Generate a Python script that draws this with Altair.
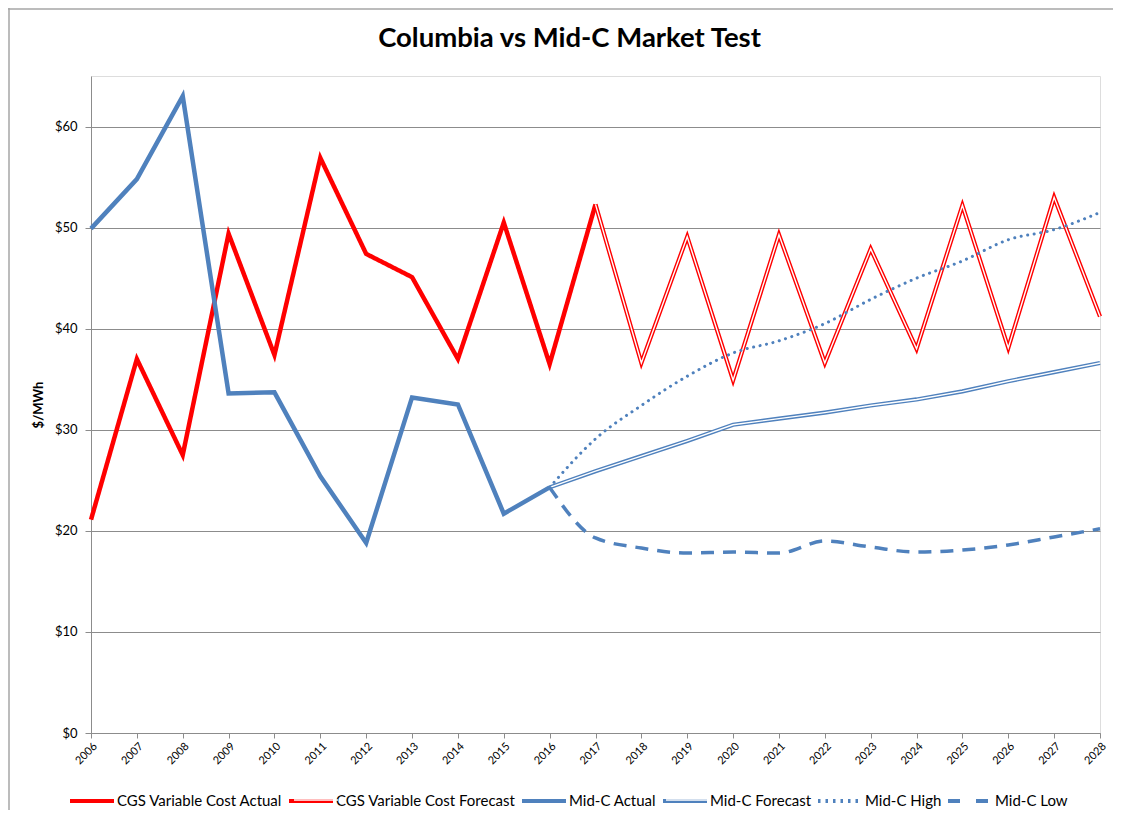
import altair as alt
import pandas as pd

# ---- data ----
years_cgs_actual = list(range(2006, 2018))
cgs_actual = [21.1, 37.0, 27.5, 49.4, 37.4, 56.9, 47.4, 45.1, 37.0, 50.5, 36.5, 52.3]

years_cgs_forecast = list(range(2017, 2029))
cgs_forecast = [52.3, 36.6, 49.1, 34.9, 49.3, 36.6, 47.9, 38.0, 52.2, 38.1, 53.0, 41.2]

years_midc_actual = list(range(2006, 2017))
midc_actual = [49.9, 54.8, 63.0, 33.6, 33.7, 25.4, 18.8, 33.2, 32.5, 21.7, 24.3]

years_forecast = list(range(2016, 2029))
midc_forecast = [24.3, 25.9, 27.4, 28.9, 30.5, 31.1, 31.7, 32.4, 33.0, 33.8, 34.8, 35.7, 36.6]
midc_high = [24.3, 29.1, 32.4, 35.3, 37.6, 38.8, 40.5, 42.9, 45.0, 46.7, 48.8, 49.8, 51.5]
midc_low = [24.3, 19.3, 18.3, 17.8, 17.9, 17.8, 19.0, 18.4, 17.9, 18.1, 18.6, 19.4, 20.2]

series_names = ["CGS Variable Cost Actual", "CGS Variable Cost Forecast", "Mid-C Actual",
                "Mid-C Forecast", "Mid-C High", "Mid-C Low"]
series_colors = ["#FF0000", "#FF0000", "#4F81BD", "#4F81BD", "#4F81BD", "#4F81BD"]
core_colors = ["transparent", "white", "transparent", "white", "transparent", "transparent"]
legend_dashes = [[1, 0], [1, 0], [1, 0], [1, 0], [2.5, 5], [12, 16]]
x_ticks = list(range(2006, 2029))
y_ticks = [0, 10, 20, 30, 40, 50, 60]

rows = []
for yrs, vals, name in [
    (years_cgs_actual, cgs_actual, series_names[0]),
    (years_cgs_forecast, cgs_forecast, series_names[1]),
    (years_midc_actual, midc_actual, series_names[2]),
    (years_forecast, midc_forecast, series_names[3]),
    (years_forecast, midc_high, series_names[4]),
    (years_forecast, midc_low, series_names[5]),
]:
    for y, v in zip(yrs, vals):
        rows.append({"year": y, "value": v, "series": name, "code": series_names.index(name)})
df = pd.DataFrame(rows)

FONT = "Lato"
GRID = "#8c8c8c"

x_enc = alt.X("year:Q", scale=alt.Scale(domain=[2006, 2028], nice=False, zero=False),
              axis=alt.Axis(values=x_ticks, format="d", labelAngle=-45, labelFontSize=11,
                            labelFont=FONT, labelColor="black", grid=False, tickSize=5,
                            tickColor=GRID, domainColor=GRID, title=None, labelPadding=2))
y_enc = alt.Y("value:Q", scale=alt.Scale(domain=[0, 65], nice=False),
              axis=alt.Axis(values=y_ticks, labelExpr="'$' + datum.value", title="$/MWh",
                            labelFont=FONT, labelFontSize=13, labelColor="black",
                            titleFont=FONT, titleFontSize=13, titleFontWeight="bold",
                            titleColor="black", grid=True, gridColor=GRID, gridWidth=1.2,
                            tickColor=GRID, domainColor=GRID, tickSize=6, labelPadding=8,
                            titlePadding=9))

main_legend = alt.Legend(orient="none", legendX=-23, legendY=701, direction="horizontal",
                         symbolType="stroke", symbolSize=1936, symbolStrokeWidth=4,
                         labelFont=FONT, labelFontSize=15, labelLimit=400, labelOffset=1,
                         labelColor="black", columnPadding=-2, title=None)
# white core of the two double-line symbols (forecast entries only)
core_legend = alt.Legend(orient="none", legendX=202, legendY=701, direction="horizontal",
                         symbolType="stroke", symbolSize=1936, symbolStrokeWidth=1.4,
                         values=[1, 3], labelExpr="''", labelFontSize=15, labelOffset=0,
                         columnPadding=322, title=None)

base = alt.Chart(df)
cscale = alt.Scale(domain=series_names, range=series_colors)
color_main = alt.Color("series:N", scale=cscale, legend=main_legend)
color_plain = alt.Color("series:N", scale=cscale)
dash_main = alt.StrokeDash("series:N", scale=alt.Scale(domain=series_names, range=legend_dashes),
                           legend=main_legend)
core_stroke = alt.Stroke("code:N", scale=alt.Scale(domain=list(range(6)), range=core_colors),
                         legend=core_legend)


def flt(name):
    return alt.datum.series == name


one = pd.DataFrame({"k": [0]})
border_left = alt.Chart(one).mark_rule(color="#a6a6a6", strokeWidth=1.5).encode(
    x=alt.value(-82), y=alt.value(-68), y2=alt.value(734))
border_top = alt.Chart(one).mark_rule(color="#a6a6a6", strokeWidth=1.5).encode(
    x=alt.value(-83), x2=alt.value(1022), y=alt.value(-67))

l1 = base.transform_filter(flt(series_names[0])).mark_line(strokeWidth=4.5, strokeJoin="miter").encode(
    x=x_enc, y=y_enc, color=color_main, strokeDash=dash_main)
l2o = base.transform_filter(flt(series_names[1])).mark_line(strokeWidth=4.2).encode(
    x=x_enc, y=y_enc, color=color_plain)
l2i = base.transform_filter(flt(series_names[1])).mark_line(strokeWidth=1.4).encode(
    x=x_enc, y=y_enc, stroke=core_stroke)
l3 = base.transform_filter(flt(series_names[2])).mark_line(strokeWidth=4.5, strokeJoin="miter").encode(
    x=x_enc, y=y_enc, color=color_plain)
l4o = base.transform_filter(flt(series_names[3])).mark_line(strokeWidth=4.2).encode(
    x=x_enc, y=y_enc, color=color_plain)
l4i = base.transform_filter(flt(series_names[3])).mark_line(strokeWidth=1.4).encode(
    x=x_enc, y=y_enc, stroke=core_stroke)
l5 = base.transform_filter(flt(series_names[4])).mark_line(
    strokeWidth=3, strokeDash=[0.1, 6.5], strokeCap="round", interpolate="monotone").encode(
    x=x_enc, y=y_enc, color=color_plain)
l6 = base.transform_filter(flt(series_names[5])).mark_line(
    strokeWidth=3.5, strokeDash=[13, 9], interpolate="monotone").encode(
    x=x_enc, y=y_enc, color=color_plain)

chart = alt.layer(border_left, border_top, l1, l2o, l2i, l3, l4o, l4i, l5, l6).properties(
    width=1009, height=657,
    autosize=alt.AutoSizeParams(type="none"),
    padding={"left": 83, "top": 68, "right": 14, "bottom": 77},
    title=alt.TitleParams("Columbia vs Mid-C Market Test", font=FONT, fontSize=27.5,
                          fontWeight="bold", color="black", anchor="middle", dx=-26, offset=-45),
).configure_view(stroke=None).configure(background="white")

chart.save("out.html", embed_options={"renderer": "svg", "actions": False})
